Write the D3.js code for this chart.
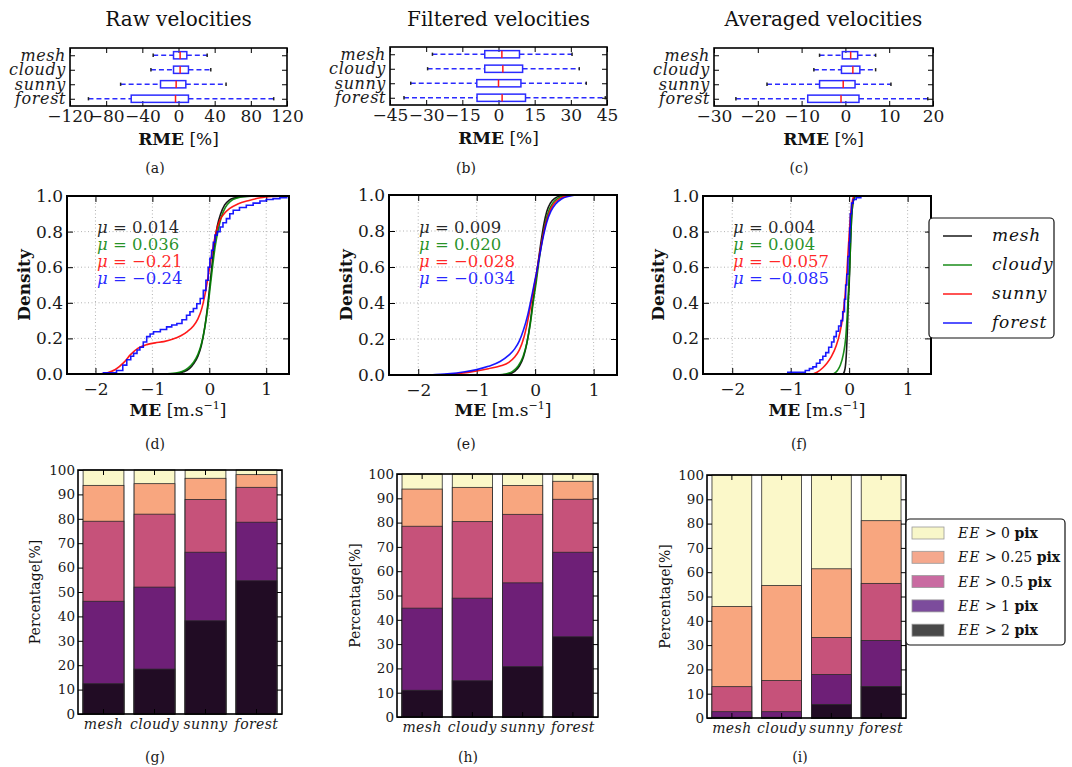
<!DOCTYPE html>
<html>
<head>
<meta charset="utf-8">
<script src="https://cdn.jsdelivr.net/npm/d3@7"></script>
<style>
  body { margin: 0; background: #fff; }
  svg { display: block; }
</style>
</head>
<body>
<div class="container"></div>
<script>
// ---- data ----
const categories = ['mesh', 'cloudy', 'sunny', 'forest'];

// box stats per category: [low whisker, Q1, median, Q3, high whisker] in %
const rawBox = [[-28, -5.5, 1.8, 9.2, 31.7], [-30.5, -5.5, 1.8, 11, 35.7], [-64, -19.9, -2.6, 8.1, 52.6], [-99.6, -52.3, -3.3, 11, 105.3]];
const filteredBox = [[-27.4, -5.7, 1.4, 8.7, 30.5], [-29.4, -5.7, 1.8, 10, 33.5], [-36.4, -9, 0, 9.3, 36.4], [-39.2, -8.9, 1.5, 11.2, 44.3]];
const averagedBox = [[-5.9, -0.7, 1.2, 2.8, 6.9], [-7.2, -0.9, 1.7, 3.3, 6.9], [-17.9, -5.9, -0.5, 2.2, 10.4], [-25, -8.6, -1, 3.1, 18.8]];
const rawTicks = [-120, -80, -40, 0, 40, 80, 120];
const filteredTicks = [-45, -30, -15, 0, 15, 30, 45];
const averagedTicks = [-30, -20, -10, 0, 10, 20];

// cumulative distributions of ME, [x, density]
const rawMesh = [[-0.7, 0], [-0.55, 0.004], [-0.45, 0.012], [-0.35, 0.03], [-0.27, 0.06], [-0.2, 0.1], [-0.14, 0.16], [-0.08, 0.26], [-0.03, 0.38], [0.01, 0.5], [0.05, 0.62], [0.09, 0.73], [0.14, 0.83], [0.2, 0.9], [0.27, 0.95], [0.35, 0.977], [0.45, 0.99], [0.6, 0.998], [0.8, 1], [1.4, 1]];
const rawCloudy = [[-0.8, 0], [-0.6, 0.005], [-0.48, 0.014], [-0.37, 0.035], [-0.28, 0.065], [-0.2, 0.11], [-0.13, 0.18], [-0.07, 0.28], [-0.02, 0.39], [0.02, 0.5], [0.06, 0.61], [0.1, 0.71], [0.15, 0.8], [0.21, 0.88], [0.28, 0.935], [0.37, 0.97], [0.48, 0.988], [0.65, 0.997], [0.9, 1], [1.4, 1]];
const rawSunny = [[-1.95, 0], [-1.8, 0.006], [-1.65, 0.025], [-1.5, 0.065], [-1.38, 0.11], [-1.25, 0.145], [-1.1, 0.165], [-0.95, 0.175], [-0.8, 0.182], [-0.65, 0.195], [-0.5, 0.215], [-0.38, 0.24], [-0.28, 0.27], [-0.2, 0.31], [-0.13, 0.37], [-0.08, 0.44], [-0.03, 0.53], [0.02, 0.63], [0.07, 0.72], [0.12, 0.8], [0.18, 0.86], [0.26, 0.9], [0.36, 0.93], [0.5, 0.955], [0.7, 0.975], [0.9, 0.99], [1.1, 0.997], [1.3, 1], [1.4, 1]];
const rawForest = [[-1.9, 0], [-1.86, 0.007], [-1.63, 0.02], [-1.52, 0.05], [-1.45, 0.08], [-1.38, 0.1], [-1.33, 0.116], [-1.27, 0.135], [-1.22, 0.15], [-1.16, 0.18], [-1.1, 0.21], [-1.04, 0.225], [-0.98, 0.237], [-0.86, 0.25], [-0.75, 0.265], [-0.66, 0.275], [-0.57, 0.284], [-0.48, 0.305], [-0.4, 0.33], [-0.34, 0.35], [-0.28, 0.368], [-0.22, 0.395], [-0.16, 0.424], [-0.105, 0.47], [-0.06, 0.527], [-0.02, 0.6], [0.01, 0.65], [0.04, 0.695], [0.07, 0.74], [0.1, 0.78], [0.14, 0.8], [0.19, 0.826], [0.24, 0.85], [0.3, 0.873], [0.36, 0.9], [0.42, 0.92], [0.53, 0.935], [0.65, 0.948], [0.77, 0.96], [0.89, 0.972], [1.0, 0.98], [1.12, 0.985], [1.24, 0.99], [1.36, 1]];
const filteredMesh = [[-0.6, 0], [-0.45, 0.005], [-0.35, 0.02], [-0.27, 0.05], [-0.2, 0.1], [-0.14, 0.18], [-0.08, 0.3], [-0.03, 0.43], [0.01, 0.52], [0.05, 0.62], [0.1, 0.74], [0.15, 0.84], [0.2, 0.91], [0.26, 0.955], [0.33, 0.98], [0.42, 0.994], [0.55, 1], [1.4, 1]];
const filteredCloudy = [[-0.65, 0], [-0.5, 0.006], [-0.38, 0.022], [-0.29, 0.05], [-0.21, 0.1], [-0.14, 0.18], [-0.08, 0.29], [-0.03, 0.41], [0.02, 0.52], [0.06, 0.62], [0.11, 0.73], [0.17, 0.84], [0.23, 0.91], [0.3, 0.955], [0.38, 0.98], [0.48, 0.994], [0.62, 1], [1.4, 1]];
const filteredSunny = [[-1.6, 0], [-1.3, 0.008], [-1.0, 0.022], [-0.8, 0.035], [-0.6, 0.05], [-0.45, 0.07], [-0.35, 0.1], [-0.27, 0.14], [-0.2, 0.2], [-0.14, 0.28], [-0.08, 0.38], [-0.03, 0.47], [0.02, 0.56], [0.07, 0.66], [0.12, 0.75], [0.18, 0.84], [0.25, 0.91], [0.33, 0.955], [0.42, 0.98], [0.55, 0.995], [0.7, 1], [1.4, 1]];
const filteredForest = [[-1.8, 0], [-1.5, 0.006], [-1.2, 0.018], [-1.0, 0.03], [-0.8, 0.048], [-0.6, 0.075], [-0.45, 0.11], [-0.35, 0.145], [-0.27, 0.19], [-0.2, 0.25], [-0.13, 0.33], [-0.07, 0.42], [-0.02, 0.5], [0.03, 0.58], [0.08, 0.67], [0.14, 0.77], [0.2, 0.85], [0.27, 0.91], [0.35, 0.95], [0.45, 0.978], [0.58, 0.993], [0.75, 1], [1.4, 1]];
const averagedMesh = [[-0.1, 0], [-0.07, 0.03], [-0.05, 0.1], [-0.03, 0.25], [-0.015, 0.4], [0, 0.5], [0.01, 0.6], [0.025, 0.75], [0.04, 0.87], [0.06, 0.95], [0.08, 0.985], [0.1, 1], [1.4, 1]];
const averagedCloudy = [[-0.27, 0], [-0.2, 0.02], [-0.15, 0.05], [-0.1, 0.11], [-0.06, 0.2], [-0.03, 0.35], [-0.01, 0.48], [0.01, 0.6], [0.025, 0.75], [0.04, 0.87], [0.06, 0.95], [0.09, 0.99], [0.12, 1], [1.4, 1]];
const averagedSunny = [[-0.62, 0], [-0.55, 0.01], [-0.45, 0.035], [-0.38, 0.06], [-0.3, 0.1], [-0.22, 0.16], [-0.16, 0.23], [-0.11, 0.32], [-0.07, 0.44], [-0.04, 0.56], [-0.02, 0.68], [0, 0.78], [0.02, 0.88], [0.04, 0.94], [0.06, 0.98], [0.09, 1], [1.4, 1]];
const averagedForest = [[-1.08, 0], [-1.05, 0.01], [-0.75, 0.02], [-0.68, 0.03], [-0.62, 0.04], [-0.56, 0.06], [-0.5, 0.08], [-0.45, 0.1], [-0.4, 0.12], [-0.35, 0.15], [-0.3, 0.18], [-0.26, 0.21], [-0.22, 0.24], [-0.18, 0.27], [-0.14, 0.3], [-0.11, 0.35], [-0.08, 0.42], [-0.06, 0.5], [-0.04, 0.56], [-0.02, 0.66], [0, 0.74], [0.01, 0.82], [0.02, 0.9], [0.04, 0.96], [0.07, 0.98], [0.12, 0.99], [0.2, 1], [1.4, 1]];
const rawMu = ['0.014', '0.036', '\u22120.21', '\u22120.24'];
const filteredMu = ['0.009', '0.020', '\u22120.028', '\u22120.034'];
const averagedMu = ['0.004', '0.004', '\u22120.057', '\u22120.085'];
const cdfXTicks = [-2, -1, 0, 1];
const cdfYTicks = [0, 0.2, 0.4, 0.6, 0.8, 1.0];

// percentage of pixels with EE above each threshold (rows follow thresholds)
const thresholds = ['0', '0.25', '0.5', '1', '2'];
const rawPct = [[100, 100, 100, 100], [93.7, 94.4, 96.6, 98.1], [79.0, 81.9, 87.9, 92.9], [46.2, 52.0, 66.3, 78.6], [12.4, 18.4, 38.2, 54.6]];
const filteredPct = [[100, 100, 100, 100], [93.8, 94.5, 95.3, 97.0], [78.5, 80.4, 83.4, 89.6], [44.8, 48.9, 55.2, 67.8], [11.0, 14.9, 20.7, 33.0]];
const averagedPct = [[100, 100, 100, 100], [45.9, 54.5, 61.4, 81.2], [12.9, 15.4, 33.1, 55.4], [2.6, 2.6, 17.9, 31.9], [0.3, 0.3, 5.6, 13.0]];
const pctTicks = [0, 10, 20, 30, 40, 50, 60, 70, 80, 90, 100];

// ---- styles ----
const serif = "'DejaVu Serif', serif";
const seriesColors = ['#000000', '#008000', '#ff0000', '#0000ff'];
const barColors = ['#fbf8c9', '#f8a67f', '#c6527a', '#6e1f77', '#210c24'];
const legendColors = ['#f8f7c9', '#f5a88d', '#c96ba1', '#7c4c9c', '#494949'];

const svg = d3
  .select('.container')
  .append('svg')
  .attr('width', 1072)
  .attr('height', 767)
  .style('background', '#fff');

const styleAxis = (g, size) => {
  g.attr('font-family', serif).attr('font-size', size);
  g.select('.domain').remove();
  g.selectAll('.tick line').attr('stroke', '#000').attr('stroke-width', 1);
  g.selectAll('.tick text').attr('fill', '#1a1a1a');
};

// inside ticks on all four sides, labels on bottom and left
const addAxes = (x, y, p, o) => {
  const g = svg.append('g');
  const bottom = d3.axisBottom(x).tickSizeInner(-o.tick).tickSizeOuter(0).tickPadding(o.padX);
  const top = d3.axisTop(x).tickSizeInner(-o.tick).tickSizeOuter(0).tickFormat(() => '');
  const left = d3.axisLeft(y).tickSizeInner(-o.tick).tickSizeOuter(0).tickPadding(o.padY);
  const right = d3.axisRight(y).tickSizeInner(-o.tick).tickSizeOuter(0).tickFormat(() => '');
  if (o.xTicks) { bottom.tickValues(o.xTicks); top.tickValues(o.xTicks); }
  if (o.yTicks) { left.tickValues(o.yTicks); right.tickValues(o.yTicks); }
  if (o.xFormat) bottom.tickFormat(o.xFormat);
  if (o.yFormat) left.tickFormat(o.yFormat);
  g.append('g').attr('class', 'xb').attr('transform', `translate(0,${p.y1})`).call(bottom).call((a) => styleAxis(a, o.size));
  g.append('g').attr('transform', `translate(0,${p.y0})`).call(top).call((a) => styleAxis(a, o.size));
  g.append('g').attr('class', 'yl').attr('transform', `translate(${p.x0},0)`).call(left).call((a) => styleAxis(a, o.ySize || o.size));
  g.append('g').attr('transform', `translate(${p.x1},0)`).call(right).call((a) => styleAxis(a, o.size));
  return g;
};

const frame = (p, w) => {
  svg
    .append('rect')
    .attr('x', p.x0)
    .attr('y', p.y0)
    .attr('width', p.x1 - p.x0)
    .attr('height', p.y1 - p.y0)
    .attr('fill', 'none')
    .attr('stroke', '#000')
    .attr('stroke-width', w);
};

const caption = (label, cx, y) => {
  svg
    .append('text')
    .attr('x', cx)
    .attr('y', y)
    .attr('text-anchor', 'middle')
    .attr('font-family', serif)
    .attr('font-size', 14)
    .attr('fill', '#1a1a1a')
    .text(label);
};

// ---- row 1: box plots ----
const drawBox = (p, stats, ticks, title, cap, capX) => {
  const x = d3.scaleLinear().domain([ticks[0], ticks[ticks.length - 1]]).range([p.x0, p.x1]);
  const y = d3.scaleLinear().domain([0.5, 4.5]).range([p.y1, p.y0]);

  const ax = addAxes(x, y, p, {
    tick: 5, padX: 4, padY: 4, size: 17, ySize: 16, xTicks: ticks, yTicks: [1, 2, 3, 4],
    xFormat: d3.format('d'), yFormat: (d) => categories[4 - d]
  });
  ax.select('.yl').selectAll('.tick text')
    .attr('font-style', 'italic')
    .attr('letter-spacing', 0.6);

  const hh = (y(0.5) - y(0.75));
  const boxes = svg.append('g').selectAll('g').data(stats).join('g');
  boxes.each(function (s, i) {
    const g = d3.select(this);
    const cy = y(4 - i);
    g.append('line').attr('x1', x(s[0])).attr('x2', x(s[1])).attr('y1', cy).attr('y2', cy)
      .attr('stroke', '#2b2bff').attr('stroke-width', 1.4).attr('stroke-dasharray', '5,3');
    g.append('line').attr('x1', x(s[3])).attr('x2', x(s[4])).attr('y1', cy).attr('y2', cy)
      .attr('stroke', '#2b2bff').attr('stroke-width', 1.4).attr('stroke-dasharray', '5,3');
    [s[0], s[4]].forEach((v) => {
      g.append('line').attr('x1', x(v)).attr('x2', x(v)).attr('y1', cy - hh * 0.45).attr('y2', cy + hh * 0.45)
        .attr('stroke', '#222').attr('stroke-width', 1.5);
    });
    g.append('rect').attr('x', x(s[1])).attr('y', cy - hh).attr('width', x(s[3]) - x(s[1])).attr('height', hh * 2)
      .attr('fill', 'none').attr('stroke', '#2b2bff').attr('stroke-width', 1.5);
    g.append('line').attr('x1', x(s[2])).attr('x2', x(s[2])).attr('y1', cy - hh).attr('y2', cy + hh)
      .attr('stroke', '#ff1a1a').attr('stroke-width', 1.5);
  });
  frame(p, 1.6);

  svg.append('text').attr('x', (p.x0 + p.x1) / 2).attr('y', 26).attr('text-anchor', 'middle')
    .attr('font-family', serif).attr('font-size', 20).attr('fill', '#111').text(title);
  const lab = svg.append('text').attr('x', (p.x0 + p.x1) / 2).attr('y', p.y1 + 39).attr('text-anchor', 'middle')
    .attr('font-family', serif).attr('font-size', 17).attr('fill', '#111');
  lab.append('tspan').attr('font-weight', 'bold').text('RME');
  lab.append('tspan').text(' [%]');
  caption(cap, capX, 173);
};

drawBox({ x0: 70, x1: 287, y0: 48, y1: 106 }, rawBox, rawTicks, 'Raw velocities', '(a)', 155);
drawBox({ x0: 390, x1: 607, y0: 47, y1: 105 }, filteredBox, filteredTicks, 'Filtered velocities', '(b)', 466);
drawBox({ x0: 714, x1: 933, y0: 48, y1: 106 }, averagedBox, averagedTicks, 'Averaged velocities', '(c)', 799);

// ---- row 2: cumulative distributions ----
let clipId = 0;
const drawCdf = (p, series, steps, mus, labX, cap, capX) => {
  const x = d3.scaleLinear().domain([-2.5, 1.4]).range([p.x0, p.x1]);
  const y = d3.scaleLinear().domain([0, 1]).range([p.y1, p.y0]);

  const grid = svg.append('g').attr('stroke', '#aaa').attr('stroke-width', 0.9).attr('stroke-dasharray', '1,2.5');
  grid.selectAll('.gx').data(cdfXTicks).join('line')
    .attr('x1', (d) => x(d)).attr('x2', (d) => x(d)).attr('y1', p.y0).attr('y2', p.y1);
  grid.selectAll('.gy').data(cdfYTicks.slice(1, -1)).join('line')
    .attr('x1', p.x0).attr('x2', p.x1).attr('y1', (d) => y(d)).attr('y2', (d) => y(d));

  addAxes(x, y, p, {
    tick: 6, padX: 9, padY: 4, size: 17, xTicks: cdfXTicks, yTicks: cdfYTicks,
    xFormat: d3.format('d'), yFormat: d3.format('.1f')
  });

  const id = 'clip' + clipId++;
  svg.append('clipPath').attr('id', id).append('rect')
    .attr('x', p.x0).attr('y', p.y0 - 1).attr('width', p.x1 - p.x0).attr('height', p.y1 - p.y0 + 1);
  const lines = svg.append('g').attr('clip-path', `url(#${id})`);
  series.forEach((pts, i) => {
    lines.append('path')
      .datum(pts)
      .attr('d', d3.line().x((d) => x(d[0])).y((d) => y(d[1])).curve(steps[i] ? d3.curveStepAfter : d3.curveMonotoneX))
      .attr('fill', 'none')
      .attr('stroke', seriesColors[i])
      .attr('stroke-width', 1.6)
      .attr('stroke-opacity', 0.9);
  });
  frame(p, 2);

  svg.append('g').selectAll('text').data(mus).join('text')
    .attr('x', p.x0 + 30)
    .attr('y', (d, i) => 233 + i * 17)
    .attr('font-family', serif)
    .attr('font-size', 16.5)
    .attr('fill', (d, i) => seriesColors[i])
    .attr('fill-opacity', 0.85)
    .each(function (d) {
      const t = d3.select(this);
      t.append('tspan').attr('font-style', 'italic').text('\u03bc');
      t.append('tspan').text(' = ' + d);
    });

  svg.append('text')
    .attr('transform', `translate(${labX},${(p.y0 + p.y1) / 2}) rotate(-90)`)
    .attr('text-anchor', 'middle')
    .attr('font-family', serif)
    .attr('font-size', 17)
    .attr('font-weight', 'bold')
    .attr('fill', '#111')
    .text('Density');
  const lab = svg.append('text').attr('x', (p.x0 + p.x1) / 2).attr('y', 416).attr('text-anchor', 'middle')
    .attr('font-family', serif).attr('font-size', 17).attr('fill', '#111');
  lab.append('tspan').attr('font-weight', 'bold').text('ME');
  lab.append('tspan').text(' [m.s');
  lab.append('tspan').attr('dy', -7).attr('font-size', 11).text('\u22121');
  lab.append('tspan').attr('dy', 7).text(']');
  caption(cap, capX, 449);
};

drawCdf({ x0: 67, x1: 289, y0: 196, y1: 374 }, [rawMesh, rawCloudy, rawSunny, rawForest], [false, false, false, true], rawMu, 30, '(d)', 155);
drawCdf({ x0: 389, x1: 617, y0: 195, y1: 375 }, [filteredMesh, filteredCloudy, filteredSunny, filteredForest], [false, false, false, false], filteredMu, 352, '(e)', 466);
drawCdf({ x0: 703, x1: 931, y0: 196, y1: 374 }, [averagedMesh, averagedCloudy, averagedSunny, averagedForest], [false, false, false, true], averagedMu, 664, '(f)', 799);

// legend for the cdf row
const leg1 = svg.append('g');
leg1.append('rect').attr('x', 929).attr('y', 218).attr('width', 125).attr('height', 120).attr('rx', 4)
  .attr('fill', '#fff').attr('stroke', '#111').attr('stroke-width', 1.2);
leg1.selectAll('g').data(categories).join('g').each(function (d, i) {
  const g = d3.select(this);
  const cy = 236 + i * 29;
  g.append('line').attr('x1', 943).attr('x2', 972).attr('y1', cy).attr('y2', cy)
    .attr('stroke', seriesColors[i]).attr('stroke-width', 1.6).attr('stroke-opacity', 0.85);
  g.append('text').attr('x', 992).attr('y', cy + 5).attr('font-family', serif).attr('font-size', 17)
    .attr('font-style', 'italic').attr('letter-spacing', 0.8).attr('fill', '#111').text(d);
});

// ---- row 3: stacked percentages ----
const drawBars = (p, pct, labX, cap, capX) => {
  const x = d3.scaleBand().domain(categories).range([p.x0, p.x1]).paddingInner(0.2).paddingOuter(0.1);
  const y = d3.scaleLinear().domain([0, 100]).range([p.y1, p.y0]);

  pct.forEach((row, t) => {
    svg.append('g').selectAll('rect').data(row).join('rect')
      .attr('x', (d, i) => x(categories[i]))
      .attr('y', (d) => y(d))
      .attr('width', x.bandwidth())
      .attr('height', (d) => y(0) - y(d))
      .attr('fill', barColors[t])
      .attr('stroke', '#2a2a2a')
      .attr('stroke-width', 0.8);
  });

  const ax = addAxes(x, y, p, { tick: 5, padX: 5, padY: 3, size: 14, ySize: 13.5, yTicks: pctTicks });
  ax.select('.xb').selectAll('.tick text')
    .attr('font-style', 'italic')
    .attr('letter-spacing', 0.4);
  frame(p, 1.6);

  svg.append('text')
    .attr('transform', `translate(${labX},${(p.y0 + p.y1) / 2}) rotate(-90)`)
    .attr('text-anchor', 'middle')
    .attr('font-family', serif)
    .attr('font-size', 14)
    .attr('fill', '#111')
    .text('Percentage[%]');
  caption(cap, capX, 762);
};

drawBars({ x0: 78, x1: 282, y0: 470, y1: 714 }, rawPct, 40, '(g)', 155);
drawBars({ x0: 397, x1: 598, y0: 474, y1: 717 }, filteredPct, 360, '(h)', 468);
drawBars({ x0: 707, x1: 906, y0: 475, y1: 718 }, averagedPct, 670, '(i)', 800);

// legend for the bar row
const leg2 = svg.append('g');
leg2.append('rect').attr('x', 906).attr('y', 519).attr('width', 159).attr('height', 126).attr('rx', 4)
  .attr('fill', '#fff').attr('stroke', '#111').attr('stroke-width', 1.2);
leg2.selectAll('g').data(thresholds).join('g').each(function (d, i) {
  const g = d3.select(this);
  const cy = 533 + i * 24.3;
  g.append('rect').attr('x', 912).attr('y', cy - 6).attr('width', 32).attr('height', 12)
    .attr('fill', legendColors[i]).attr('stroke', '#999').attr('stroke-width', 0.8);
  const t = g.append('text').attr('x', 958).attr('y', cy + 5).attr('font-family', serif).attr('font-size', 14).attr('fill', '#111');
  t.append('tspan').attr('font-style', 'italic').attr('letter-spacing', 1).text('EE');
  t.append('tspan').text(' > ' + d + ' ');
  t.append('tspan').attr('font-weight', 'bold').text('pix');
});
</script>
</body>
</html>
